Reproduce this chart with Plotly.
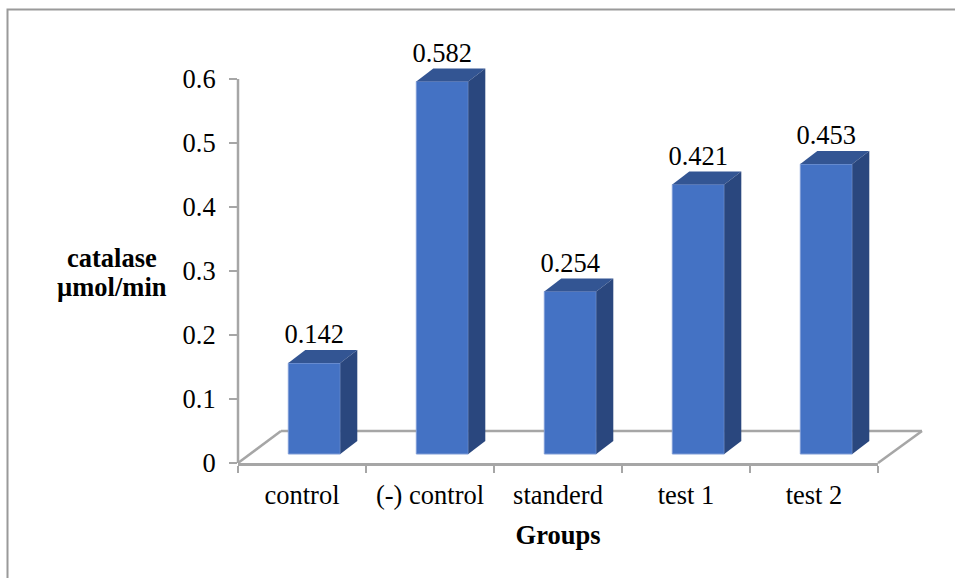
import plotly.graph_objects as go

categories = ["control", "(-) control", "standerd", "test 1", "test 2"]
catalase = [0.142, 0.582, 0.254, 0.421, 0.453]
y_ticks = [0, 0.1, 0.2, 0.3, 0.4, 0.5, 0.6]
y_tick_labels = ["0", "0.1", "0.2", "0.3", "0.4", "0.5", "0.6"]

W, H = 955, 578
L, R, B = 238, 878, 463
AXIS_TOP = 79                     # pixel row of the 0.6 tick
Y_MAX = 0.7                       # room above the axis for the tallest bar
FONT = "Liberation Serif"
FRONT, TOP, SIDE = "#4472C4", "#335593", "#2A477E"
GREY = "#A6A6A6"

# projection of the pseudo-3D box, in axis units
x_unit = (R - L) / 5
y_unit = (B - AXIS_TOP) / 0.6
T = B - Y_MAX * y_unit
BASE = 9 / y_unit
DX = 17 / x_unit
DY = 13 / y_unit
BAR_W = 52 / x_unit
BAR_OFF = -13.7 / x_unit  # left edge of bar relative to category centre


def px(x):
    return (x - L) / (R - L)


def py(y):
    return (B - y) / (B - T)


fig = go.Figure()

# front faces
fig.add_trace(go.Bar(
    x=categories, y=catalase, base=BASE, width=BAR_W, offset=BAR_OFF,
    marker=dict(color=FRONT, line=dict(color="#7F9CD6", width=1)),
    cliponaxis=False, showlegend=False, xaxis="x", yaxis="y"))

# top and side faces, and value labels, derived from the data
for i, v in enumerate(catalase):
    x0 = i + BAR_OFF
    x1 = x0 + BAR_W
    yt = BASE + v
    fig.add_trace(go.Scatter(
        x=[x0, x1, x1 + DX, x0 + DX, x0], y=[yt, yt, yt + DY, yt + DY, yt],
        mode="lines", fill="toself", fillcolor=TOP, line=dict(width=0, color=TOP),
        cliponaxis=False, showlegend=False, xaxis="x2", yaxis="y", hoverinfo="skip"))
    fig.add_trace(go.Scatter(
        x=[x1, x1 + DX, x1 + DX, x1, x1], y=[BASE, BASE + DY, yt + DY, yt, BASE],
        mode="lines", fill="toself", fillcolor=SIDE, line=dict(width=0, color=SIDE),
        cliponaxis=False, showlegend=False, xaxis="x2", yaxis="y", hoverinfo="skip"))

fig.add_trace(go.Scatter(
    x=[i + BAR_OFF + BAR_W / 2 for i in range(len(catalase))],
    y=[BASE + v + DY for v in catalase],
    mode="text", text=[f"{v:.3f}" for v in catalase], textposition="top center",
    textfont=dict(family=FONT, size=26.5, color="#000000"),
    cliponaxis=False, showlegend=False, xaxis="x2", yaxis="y"))

floor = dict(type="line", xref="paper", yref="paper", layer="below",
             line=dict(color=GREY, width=2.5))
title_font = dict(size=26.5)

fig.update_layout(
    width=W, height=H, autosize=False,
    margin=dict(l=L, r=W - R, t=T, b=H - B),
    paper_bgcolor="white", plot_bgcolor="white",
    font=dict(family=FONT, size=26.5, color="#000000"),
    xaxis=dict(type="category", range=[-0.5, 4.5], tickson="boundaries",
               ticks="outside", ticklen=7, tickwidth=1.5, tickcolor=GREY,
               showline=True, linecolor=GREY, linewidth=2.5, showgrid=False,
               zeroline=False, ticklabelstandoff=6, tickfont=dict(size=26.5),
               title=dict(text="<b>Groups</b>", standoff=17, font=title_font)),
    xaxis2=dict(overlaying="x", range=[-0.5, 4.5], visible=False),
    yaxis=dict(range=[0, Y_MAX], tickvals=y_ticks, ticktext=y_tick_labels,
               ticks="outside", ticklen=8, tickwidth=1.5, tickcolor=GREY,
               showline=False, showgrid=False,
               zeroline=False, ticklabelstandoff=8, tickfont=dict(size=26.5)),
    shapes=[
        dict(floor, x0=px(L), y0=py(B), x1=px(L), y1=py(AXIS_TOP)),
        dict(floor, x0=px(L), y0=py(B), x1=px(281), y1=py(431)),
        dict(floor, x0=px(281), y0=py(431), x1=px(922), y1=py(431)),
        dict(floor, x0=px(R), y0=py(B), x1=px(922), y1=py(431)),
        dict(type="rect", xref="paper", yref="paper", layer="below",
             x0=px(7.5), y0=py(9.5), x1=px(1000), y1=py(640),
             line=dict(color="#9A9A9A", width=2), fillcolor="rgba(0,0,0,0)"),
    ],
    annotations=[
        dict(text="<b>catalase</b>", xref="paper", yref="paper", x=px(112), y=py(258),
             xanchor="center", yanchor="middle", showarrow=False, font=title_font),
        dict(text="<b>µmol/min</b>", xref="paper", yref="paper", x=px(112), y=py(287),
             xanchor="center", yanchor="middle", showarrow=False, font=title_font),
    ],
)

fig.write_html("out.html", config={"displayModeBar": False},
               post_script="document.body.style.margin='0';document.body.style.overflow='hidden';")
